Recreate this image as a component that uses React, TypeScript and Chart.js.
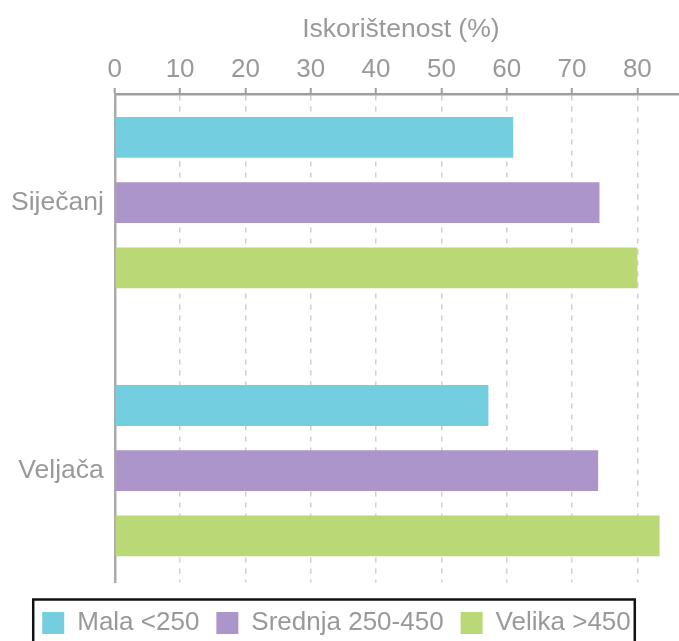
import React, { useEffect, useRef } from 'react';
import { Chart, registerables } from 'chart.js';

Chart.register(...registerables);

const categories = ['Siječanj', 'Veljača'];
const seriesNames = ['Mala <250', 'Srednja 250-450', 'Velika >450'];
const malaValues = [61, 57.2];
const srednjaValues = [74.2, 74.0];
const velikaValues = [80, 83.4];
const xTickValues = [0, 10, 20, 30, 40, 50, 60, 70, 80];
const axisTitle = 'Iskorištenost (%)';
const seriesColors = ['#73CFE0', '#AB95C9', '#BAD876'];

const TEXT = '#999999';
const FONT = "'Liberation Sans', Arial, sans-serif";
const LEGEND_SHIFT = 7;

const legendFrame = {
  id: 'legendFrame',
  afterLayout(chart: any) {
    const lg = chart.legend;
    if (!lg) return;
    lg.left -= LEGEND_SHIFT;
    lg.right -= LEGEND_SHIFT;
  },
  afterDraw(chart: any) {
    const lg = chart.legend;
    if (!lg || !lg.lineWidths) return;
    const pad = lg.options.labels.padding;
    const rowW = lg.lineWidths[0];
    const x0 = (lg.left + pad + lg.right - rowW) / 2;
    const left = x0 - 9;
    const right = x0 + rowW - pad + 4;
    const hb = lg.legendHitBoxes;
    const top = hb && hb.length ? hb[0].top - 10.5 : lg.top + 16;
    const ctx = chart.ctx;
    ctx.save();
    ctx.strokeStyle = '#111111';
    ctx.lineWidth = 2.5;
    ctx.strokeRect(left, top, right - left, chart.height + 20 - top);
    ctx.restore();
  },
};

export default function App() {
  const ref = useRef<HTMLCanvasElement>(null);
  useEffect(() => {
    if (!ref.current) return;
    Chart.defaults.font.family = FONT;
    const allValues = [malaValues, srednjaValues, velikaValues];
    const chart = new Chart(ref.current, {
      type: 'bar',
      data: {
        datasets: seriesNames.map((name, s) => ({
          label: name,
          data: categories.map((_, i) => ({ x: allValues[s][i], y: i })),
          backgroundColor: seriesColors[s],
          borderWidth: 0,
          categoryPercentage: 0.73,
          barPercentage: 0.626,
        })),
      },
      options: {
        indexAxis: 'y',
        responsive: false,
        animation: false,
        layout: { padding: { left: 0, top: 0, right: 0, bottom: 0 } },
        plugins: {
          tooltip: { enabled: false },
          legend: {
            position: 'bottom',
            labels: {
              boxWidth: 22,
              boxHeight: 22,
              padding: 17,
              color: TEXT,
              font: { size: 26, family: FONT },
            },
            title: { display: true, text: '', font: { size: 1 }, padding: { top: 9.3, bottom: 0 } },
          },
        },
        scales: {
          x: {
            type: 'linear',
            position: 'top',
            min: 0,
            max: 87.6,
            afterBuildTicks: (scale: any) => {
              scale.ticks = xTickValues.map((v) => ({ value: v }));
            },
            ticks: { color: TEXT, font: { size: 26, family: FONT }, padding: 3 },
            grid: {
              color: '#cfcfcf',
              lineWidth: 1.5,
              tickColor: '#9e9e9e',
              tickLength: 6,
              tickWidth: 2,
            },
            border: { display: true, color: '#9e9e9e', width: 2.5, dash: [5, 6] },
            title: {
              display: true,
              text: axisTitle,
              color: TEXT,
              font: { size: 26.5, family: FONT },
              padding: { top: 14, bottom: 5 },
            },
          },
          y: {
            type: 'linear',
            reverse: true,
            offset: false,
            bounds: 'data',
            min: -0.405,
            max: 1.417,
            afterBuildTicks: (scale: any) => {
              scale.ticks = categories.map((_, i) => ({ value: i }));
            },
            ticks: {
              color: TEXT,
              font: { size: 26.5, family: FONT },
              padding: 11,
              callback: (v: any) => categories[v as number],
            },
            grid: { display: true, offset: false, drawOnChartArea: false, drawTicks: false },
            border: { display: true, color: '#aaaaaa', width: 2.5 },
          },
        },
      },
      plugins: [legendFrame],
    } as any);
    return () => chart.destroy();
  }, []);
  return (
    <div style={{ position: 'fixed', left: 0, top: 0, width: 679, height: 641, overflow: 'hidden', background: '#fff' }}>
      <canvas ref={ref} width={687} height={646} style={{ display: 'block' }} />
    </div>
  );
}
